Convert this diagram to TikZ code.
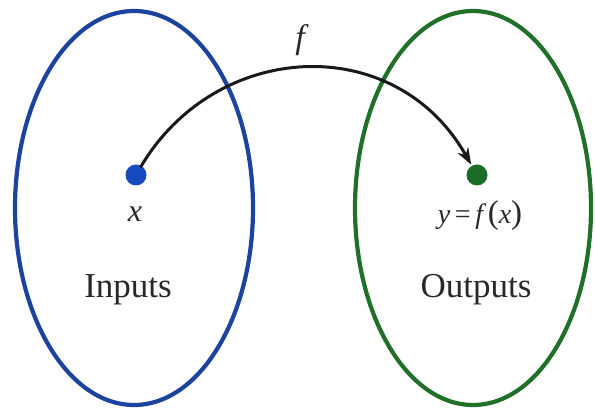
\documentclass[tikz,border=0pt]{standalone}
\usepackage{fontspec}
\setmainfont{Liberation Serif}
\usetikzlibrary{arrows.meta}
\definecolor{setblue}{RGB}{28,68,158}
\definecolor{setgreen}{RGB}{32,112,42}
\definecolor{dotblue}{RGB}{22,74,190}
\definecolor{dotgreen}{RGB}{26,108,38}
\definecolor{inkgray}{RGB}{40,40,40}
\newcommand{\bigparen}[1]{{\fontsize{33}{33}\selectfont\upshape #1}}
\tikzset{
  setring/.style={line width=4.2pt},
  elemdot/.style={circle, inner sep=0pt, minimum size=21pt},
  biglabel/.style={font=\fontsize{35}{40}\selectfont, text=inkgray, inner sep=0pt},
  mathlabel/.style={font=\fontsize{28}{30}\selectfont\itshape, text=inkgray, inner sep=0pt},
  maparrow/.style={line width=3pt, black!90, -{Stealth[length=17pt,width=12pt]}}
}
\begin{document}
\begin{tikzpicture}[x=1pt,y=-1pt]
\useasboundingbox (0,0) rectangle (595,411);
\draw[setring, setblue] (134,208) ellipse [x radius=119, y radius=197];
\draw[setring, setgreen] (473,208) ellipse [x radius=118, y radius=197];
\node[elemdot, fill=dotblue] (xdot) at (136,175) {};
\node[elemdot, fill=dotgreen] (ydot) at (477,175) {};
\node[mathlabel, font=\fontsize{32}{34}\selectfont\itshape] (xlab) at (135,214) {x};
\node[mathlabel] (ylab) at (480,216) {y\,\textup{=}\,f\,\bigparen{(}x\bigparen{)}};
\node[biglabel] (inlab) at (128,290) {Inputs};
\node[biglabel] (outlab) at (476,290) {Outputs};
\node[mathlabel, font=\fontsize{34}{36}\selectfont\itshape] (flab) at (300,40) {f};
\draw[maparrow, shorten <=-2pt, shorten >=1pt] (xdot) .. controls (215,40) and (395,30) .. (ydot);
\end{tikzpicture}
\end{document}
